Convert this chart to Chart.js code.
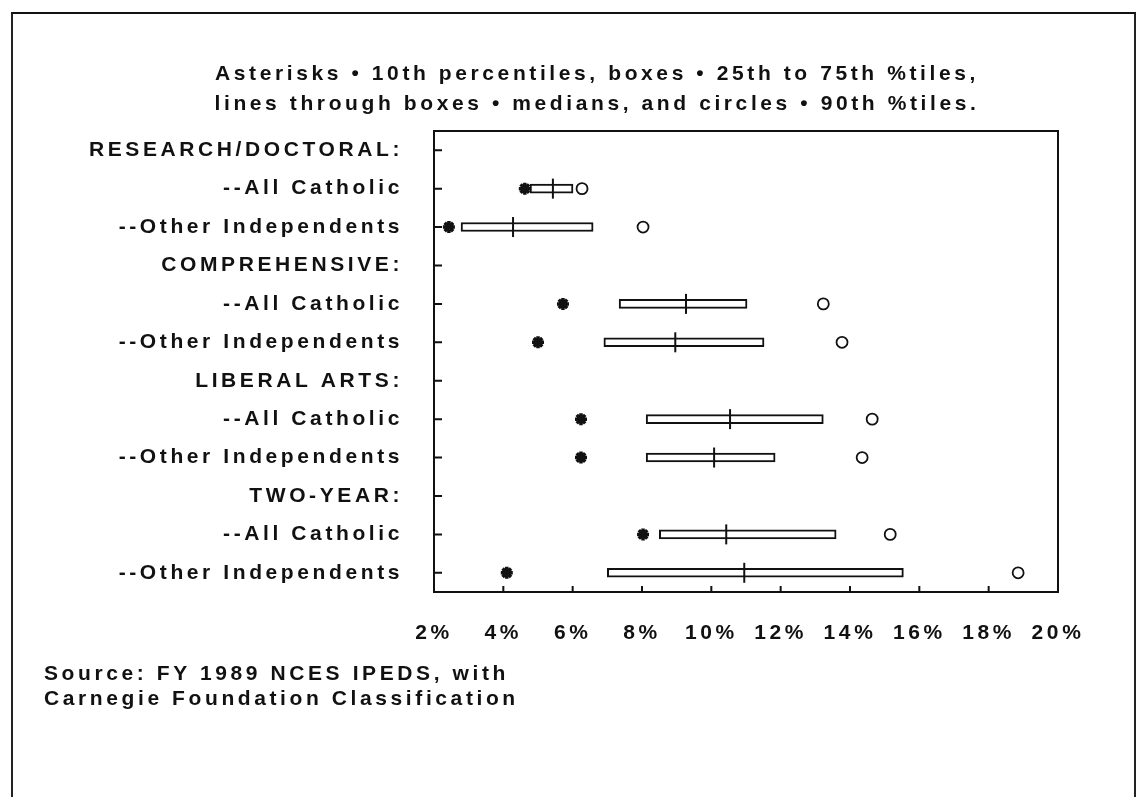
<!DOCTYPE html>
<html>
<head>
<meta charset="utf-8">
<script src="https://cdn.jsdelivr.net/npm/chart.js@4/dist/chart.umd.min.js"></script>
<style>
  body { margin: 0; background: #fff; }
  #pagina { position: relative; width: 1146px; height: 797px; overflow: hidden; background: #fff; }
  #marco { position: absolute; left: 11px; top: 12px; width: 1121px; height: 820px;
           border-top: 2px solid #111; border-left: 2px solid #222; border-right: 2px solid #222; }
  #lienzo { position: absolute; left: 0; top: 0; width: 1146px; height: 797px; }
  .texto { position: absolute; font-family: "Liberation Sans", Arial, sans-serif; font-weight: bold;
           font-size: 21px; letter-spacing: 3.6px; color: #111; white-space: nowrap; }
  #titulo { left: 0; width: 1194px; top: 58px; line-height: 30px; text-align: center; }
  #fuente { left: 44px; top: 660px; line-height: 25px; }
</style>
</head>
<body>
<div id="pagina">
  <div id="marco"></div>
  <div id="lienzo"><canvas id="grafica"></canvas></div>
  <div id="titulo" class="texto">Asterisks • 10th percentiles, boxes • 25th to 75th %tiles,<br>lines through boxes • medians, and circles • 90th %tiles.</div>
  <div id="fuente" class="texto">Source: FY 1989 NCES IPEDS, with<br>Carnegie Foundation Classification</div>
</div>
<script>
// filas del grafico (las cabeceras no tienen datos)
var categorias = [
  "RESEARCH/DOCTORAL:", "--All Catholic", "--Other Independents",
  "COMPREHENSIVE:", "--All Catholic", "--Other Independents",
  "LIBERAL ARTS:", "--All Catholic", "--Other Independents",
  "TWO-YEAR:", "--All Catholic", "--Other Independents"
];
var percentil10 = [null, 4.62, 2.43, null, 5.72, 5.0, null, 6.24, 6.24, null, 8.03, 4.1];
var percentil25 = [null, 4.77, 2.78, null, 7.34, 6.9, null, 8.12, 8.12, null, 8.5, 7.0];
var mediana     = [null, 5.43, 4.28, null, 9.27, 8.96, null, 10.54, 10.08, null, 10.43, 10.95];
var percentil75 = [null, 6.01, 6.59, null, 11.03, 11.52, null, 13.23, 11.84, null, 13.6, 15.54];
var percentil90 = [null, 6.27, 8.03, null, 13.23, 13.77, null, 14.64, 14.35, null, 15.16, 18.85];
var ticksX = [2, 4, 6, 8, 10, 12, 14, 16, 18, 20];

var fuenteEje = { family: "Liberation Sans", weight: "bold", size: 21 };

// un punto por fila (x null en las cabeceras) para que el indice coincida con la categoria
function puntos(valores) {
  var res = [];
  for (var i = 0; i < categorias.length; i++) {
    res.push({ x: valores[i], y: i });
  }
  return res;
}

var cajas = [];
for (var i = 0; i < categorias.length; i++) {
  cajas.push(percentil25[i] == null ? null : [percentil25[i], percentil75[i]]);
}

// marco del area, marcas hacia dentro y espaciado de letras
var marcoPlugin = {
  id: 'marcoPlugin',
  beforeDraw: function(chart) {
    chart.ctx.letterSpacing = '3.6px';
  },
  afterDraw: function(chart) {
    var ctx = chart.ctx, a = chart.chartArea;
    var sx = chart.scales.x, sy = chart.scales.y;
    ctx.save();
    ctx.letterSpacing = '0px';
    ctx.strokeStyle = '#111';
    ctx.lineWidth = 2;
    ctx.strokeRect(a.left, a.top, a.right - a.left, a.bottom - a.top);
    ctx.beginPath();
    for (var i = 0; i < sy.ticks.length; i++) {
      var y = sy.getPixelForTick(i);
      ctx.moveTo(a.left, y);
      ctx.lineTo(a.left + 8, y);
    }
    for (var j = 0; j < sx.ticks.length; j++) {
      var x = sx.getPixelForTick(j);
      ctx.moveTo(x, a.bottom);
      ctx.lineTo(x, a.bottom - 6);
    }
    ctx.stroke();
    ctx.restore();
  }
};

var grafica = new Chart(document.getElementById('grafica').getContext('2d'), {
  type: 'bar',
  data: {
    labels: categorias,
    datasets: [
      {
        label: 'Mediana',
        type: 'scatter',
        data: puntos(mediana),
        pointStyle: 'line',
        rotation: 90,
        radius: 10,
        borderWidth: 2,
        borderColor: '#111',
        order: 1
      },
      {
        label: 'Percentil 10',
        type: 'scatter',
        data: puntos(percentil10),
        pointStyle: 'star',
        radius: 6,
        borderWidth: 3.5,
        borderColor: '#111',
        backgroundColor: '#111',
        order: 2
      },
      {
        label: 'Percentil 90',
        type: 'scatter',
        data: puntos(percentil90),
        pointStyle: 'circle',
        radius: 5.5,
        borderWidth: 1.8,
        borderColor: '#111',
        backgroundColor: '#fff',
        order: 3
      },
      {
        label: 'Caja',
        data: cajas,
        backgroundColor: '#fff',
        borderColor: '#111',
        borderWidth: 2,
        borderSkipped: false,
        barThickness: 9,
        order: 4
      }
    ]
  },
  options: {
    indexAxis: 'y',
    responsive: true,
    maintainAspectRatio: false,
    animation: false,
    layout: { padding: { left: 0, top: 131, right: 88, bottom: 155 } },
    plugins: {
      legend: { display: false },
      tooltip: { enabled: false },
      title: { display: false }
    },
    scales: {
      x: {
        type: 'linear',
        min: 2,
        max: 20,
        afterBuildTicks: function(scale) {
          scale.ticks = ticksX.map(function(v) { return { value: v }; });
        },
        afterFit: function(scale) { scale.height = 50; },
        grid: { display: false, drawTicks: false },
        border: { display: false },
        ticks: {
          padding: 29,
          maxRotation: 0,
          color: '#111',
          font: fuenteEje,
          callback: function(v) { return v + '%'; }
        }
      },
      y: {
        type: 'category',
        offset: true,
        afterFit: function(scale) { scale.width = 434; },
        grid: { display: false, drawTicks: false },
        border: { display: false },
        ticks: {
          padding: 31,
          color: '#111',
          font: fuenteEje,
          autoSkip: false
        }
      }
    }
  },
  plugins: [marcoPlugin]
});
</script>
</body>
</html>
